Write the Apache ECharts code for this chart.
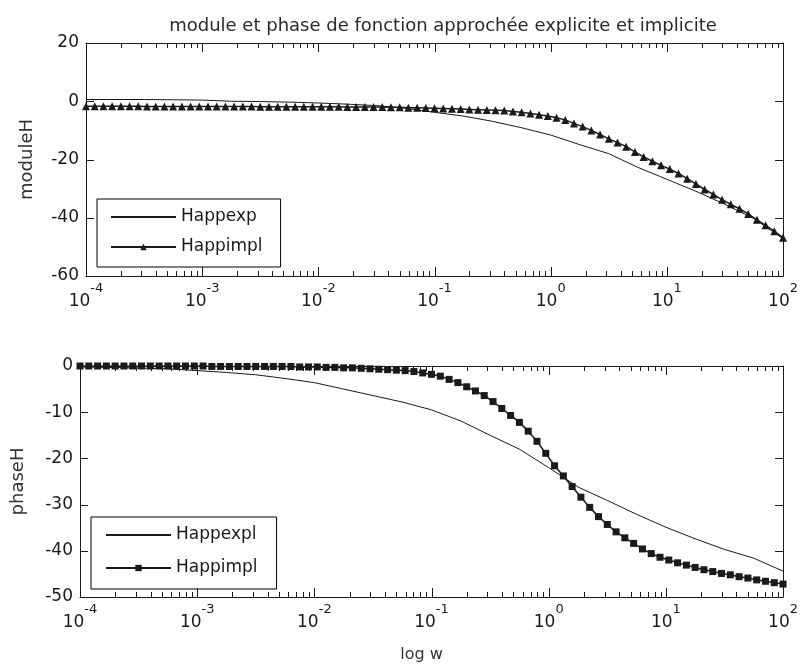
<!DOCTYPE html>
<html><head><meta charset="utf-8">
<script src="https://cdn.jsdelivr.net/npm/echarts@6/dist/echarts.min.js"></script>
<style>html,body{margin:0;padding:0;background:#fff}#c{width:801px;height:666px}</style>
</head><body><div id="c"></div>
<script>
// ---------------- data ----------------
const titleText = 'module et phase de fonction approchée explicite et implicite';
const topYName = 'moduleH';
const bottomYName = 'phaseH';
const xName = 'log w';

// exponents of w (w = 10^e)
const wExpFine = [-4,-3.925,-3.85,-3.775,-3.7,-3.625,-3.55,-3.475,-3.4,-3.325,
  -3.25,-3.175,-3.1,-3.025,-2.95,-2.875,-2.8,-2.725,-2.65,-2.575,
  -2.5,-2.425,-2.35,-2.275,-2.2,-2.125,-2.05,-1.975,-1.9,-1.825,
  -1.75,-1.675,-1.6,-1.525,-1.45,-1.375,-1.3,-1.225,-1.15,-1.075,
  -1,-0.925,-0.85,-0.775,-0.7,-0.625,-0.55,-0.475,-0.4,-0.325,
  -0.25,-0.175,-0.1,-0.025,0.05,0.125,0.2,0.275,0.35,0.425,
  0.5,0.575,0.65,0.725,0.8,0.875,0.95,1.025,1.1,1.175,
  1.25,1.325,1.4,1.475,1.55,1.625,1.7,1.775,1.85,1.925,2];
const wExpCoarse = [-4,-3.75,-3.5,-3.25,-3,-2.75,-2.5,-2.25,-2,-1.75,-1.5,-1.25,-1,
  -0.75,-0.5,-0.25,0,0.25,0.5,0.75,1,1.25,1.5,1.75,2];

// module (dB)
const moduleHappexp = [0.6,0.6,0.6,0.5,0.4,0.0,-0.1,-0.3,-0.6,-1.0,-1.5,-2.4,-3.8,
  -5.1,-6.9,-9.1,-11.6,-14.9,-18.0,-22.7,-26.8,-30.9,-35.4,-40.3,-47.2];
const moduleHappimpl = [-1.7,-1.7,-1.7,-1.7,-1.7,-1.7,-1.7,-1.8,-1.8,-1.8,
  -1.8,-1.8,-1.8,-1.8,-1.8,-1.8,-1.8,-1.8,-1.8,-1.8,
  -1.9,-1.9,-1.9,-1.9,-1.9,-1.9,-1.9,-1.9,-1.9,-1.9,
  -2.0,-2.0,-2.0,-2.0,-2.0,-2.1,-2.1,-2.2,-2.2,-2.3,
  -2.4,-2.5,-2.6,-2.7,-2.8,-2.9,-3.0,-3.1,-3.2,-3.5,
  -3.8,-4.2,-4.6,-5.1,-5.7,-6.4,-7.6,-8.7,-10.0,-11.4,
  -12.9,-14.2,-15.6,-17.4,-19.1,-20.6,-22.0,-23.3,-24.8,-26.6,
  -28.4,-30.3,-32.0,-33.8,-35.4,-36.9,-38.7,-40.7,-42.6,-44.6,-46.9];

// phase (deg)
const phaseHappexpl = [-0.2,-0.3,-0.45,-0.6,-1.0,-1.4,-1.9,-2.7,-3.6,-5.0,-6.4,-7.8,-9.5,
  -11.9,-15.0,-18.0,-22.0,-26.2,-29.1,-32.1,-34.9,-37.4,-39.7,-41.6,-44.4];
const phaseHappimpl = [0,0,0,0,0,0,0,0,0,0,
  0,0,0,0,0,-0.1,-0.1,-0.1,-0.1,-0.1,
  -0.1,-0.1,-0.1,-0.1,-0.1,-0.2,-0.2,-0.2,-0.3,-0.3,
  -0.4,-0.4,-0.5,-0.6,-0.7,-0.8,-0.9,-1.0,-1.2,-1.5,
  -1.8,-2.2,-2.9,-3.6,-4.5,-5.4,-6.4,-7.7,-9.2,-10.7,
  -12.2,-14.1,-16.3,-18.9,-21.6,-23.8,-26.1,-28.4,-30.6,-32.6,
  -34.3,-35.9,-37.2,-38.4,-39.6,-40.6,-41.4,-42.0,-42.6,-43.1,
  -43.6,-44.1,-44.5,-44.9,-45.2,-45.6,-45.9,-46.3,-46.6,-46.9,-47.2];

const decadeTicks = [1e-4, 1e-3, 1e-2, 1e-1, 1, 10, 100];
const yTicksModule = [20, 0, -20, -40, -60];
const yTicksPhase = [0, -10, -20, -30, -40, -50];
const legendTop = ['Happexp', 'Happimpl'];
const legendBottom = ['Happexpl', 'Happimpl '];

// ---------------- chart ----------------
const FONT = 'DejaVu Sans';
const INK = '#1a1a1a';
const minorTicks = [];
for (let d = -4; d < 2; d++) for (let k = 2; k <= 9; k++) minorTicks.push(k * Math.pow(10, d));

const pairs = (ex, vals) => ex.map((e, i) => [Math.pow(10, e), vals[i]]);

function xAxesFor(g) {
  return [{
    gridIndex: g, type: 'log', logBase: 10, min: 1e-4, max: 100, position: 'bottom',
    splitLine: { show: false },
    axisLine: { show: true, onZero: false, lineStyle: { color: INK, width: 1 } },
    axisTick: { show: false },
    axisLabel: { show: true, customValues: decadeTicks, margin: 14,
      formatter: v => '{b|10}{s|' + Math.round(Math.log10(v)) + '}',
      rich: { b: { fontFamily: FONT, fontSize: 17, lineHeight: 20, color: INK, verticalAlign: 'bottom' },
              s: { fontFamily: FONT, fontSize: 13, lineHeight: 14, color: INK, verticalAlign: 'bottom', padding: [0, 0, 15, 0] } } },
    name: g === 1 ? xName : '', nameLocation: 'middle', nameGap: 50,
    nameTextStyle: { fontFamily: FONT, fontSize: 16, color: '#333', padding: [0, 20, 0, 0] }
  }, {
    gridIndex: g, type: 'log', logBase: 10, min: 1e-4, max: 100, position: 'top',
    splitLine: { show: false },
    axisLine: { show: true, onZero: false, lineStyle: { color: INK, width: 1 } },
    axisTick: { show: false }, axisLabel: { show: false }
  }];
}

function yAxesFor(g, min, max, interval, name, gap) {
  const line = { show: true, onZero: false, lineStyle: { color: INK, width: 1 } };
  const base = { gridIndex: g, type: 'value', min, max, interval, splitLine: { show: false }, axisTick: { show: false } };
  return [
    Object.assign({}, base, { position: 'left', axisLine: line,
      axisLabel: { fontFamily: FONT, fontSize: 17, color: INK, margin: 7 },
      name, nameLocation: 'middle', nameGap: gap,
      nameTextStyle: { fontFamily: FONT, fontSize: 18, color: '#333' } }),
    Object.assign({}, base, { position: 'right', axisLine: line, axisLabel: { show: false } })
  ];
}

// tick marks drawn through the axes' own scales (inward, on all four sides)
function xTickSeries(xi, yi, yMin) {
  const data = decadeTicks.map(v => [v, yMin, 9]).concat(minorTicks.map(v => [v, yMin, 5]));
  return { type: 'custom', xAxisIndex: xi, yAxisIndex: yi, silent: true, clip: false, z: 5,
    encode: { x: 0, y: 1 }, data,
    renderItem: (params, api) => {
      const cs = params.coordSys;
      const x = Math.round(api.coord([api.value(0), yMin])[0]) + 0.5;
      const len = api.value(2);
      const yb = cs.y + cs.height, yt = cs.y;
      const st = { stroke: INK, lineWidth: 1 };
      return { type: 'group', children: [
        { type: 'line', shape: { x1: x, y1: yb, x2: x, y2: yb - len }, style: st },
        { type: 'line', shape: { x1: x, y1: yt, x2: x, y2: yt + len }, style: st }
      ] };
    } };
}
function yTickSeries(xi, yi, ticks) {
  return { type: 'custom', xAxisIndex: xi, yAxisIndex: yi, silent: true, clip: false, z: 5,
    encode: { x: 0, y: 1 }, data: ticks.map(v => [1e-4, v]),
    renderItem: (params, api) => {
      const cs = params.coordSys;
      const y = Math.round(api.coord([1e-4, api.value(1)])[1]) + 0.5;
      const xl = cs.x, xr = cs.x + cs.width;
      const st = { stroke: INK, lineWidth: 1 };
      return { type: 'group', children: [
        { type: 'line', shape: { x1: xl, y1: y, x2: xl + 8, y2: y }, style: st },
        { type: 'line', shape: { x1: xr, y1: y, x2: xr - 8, y2: y }, style: st }
      ] };
    } };
}

const legendCommon = {
  orient: 'vertical', itemWidth: 65, itemHeight: 8, borderColor: '#000', borderWidth: 1,
  borderRadius: 0, backgroundColor: '#fff', selectedMode: false,
  formatter: n => n.trim(),
  textStyle: { fontFamily: FONT, fontSize: 17, color: INK, lineHeight: 20 }
};

const option = {
  animation: false,
  backgroundColor: '#fff',
  title: { text: titleText, left: 438, top: 12, textAlign: 'center',
    textStyle: { fontFamily: FONT, fontSize: 18, fontWeight: 'normal', color: '#2a2a2a' } },
  grid: [
    { left: 86, top: 43, width: 704, height: 233 },
    { left: 80, top: 366, width: 706, height: 231 }
  ],
  legend: [
    Object.assign({}, legendCommon, { left: 97, top: 199, itemGap: 10, padding: [8, 18, 10, 13],
      data: [{ name: legendTop[0], itemStyle: { opacity: 0 } }, legendTop[1]] }),
    Object.assign({}, legendCommon, { left: 91, top: 517, itemGap: 13, padding: [8, 19, 11, 14],
      data: [{ name: legendBottom[0], itemStyle: { opacity: 0 } }, legendBottom[1]] })
  ],
  xAxis: xAxesFor(0).concat(xAxesFor(1)),
  yAxis: yAxesFor(0, -60, 20, 20, topYName, 50).concat(yAxesFor(1, -50, 0, 10, bottomYName, 53)),
  series: [
    { name: legendTop[0], type: 'line', xAxisIndex: 0, yAxisIndex: 0, data: pairs(wExpCoarse, moduleHappexp),
      showSymbol: false, symbol: 'none', lineStyle: { color: INK, width: 1 }, itemStyle: { color: INK } },
    { name: legendTop[1], type: 'line', xAxisIndex: 0, yAxisIndex: 0, data: pairs(wExpFine, moduleHappimpl),
      symbol: 'triangle', symbolSize: 8, lineStyle: { color: INK, width: 1.5 }, itemStyle: { color: INK } },
    { name: legendBottom[0], type: 'line', xAxisIndex: 2, yAxisIndex: 2, data: pairs(wExpCoarse, phaseHappexpl),
      showSymbol: false, symbol: 'none', lineStyle: { color: INK, width: 1 }, itemStyle: { color: INK } },
    { name: legendBottom[1], type: 'line', xAxisIndex: 2, yAxisIndex: 2, data: pairs(wExpFine, phaseHappimpl),
      symbol: 'rect', symbolSize: 7, lineStyle: { color: INK, width: 1.5 }, itemStyle: { color: INK } },
    xTickSeries(0, 0, -60),
    xTickSeries(2, 2, -50),
    yTickSeries(0, 0, yTicksModule),
    yTickSeries(2, 2, yTicksPhase)
  ]
};

const chart = echarts.init(document.getElementById('c'), null, { renderer: 'canvas' });
chart.setOption(option);
</script>
</body></html>
